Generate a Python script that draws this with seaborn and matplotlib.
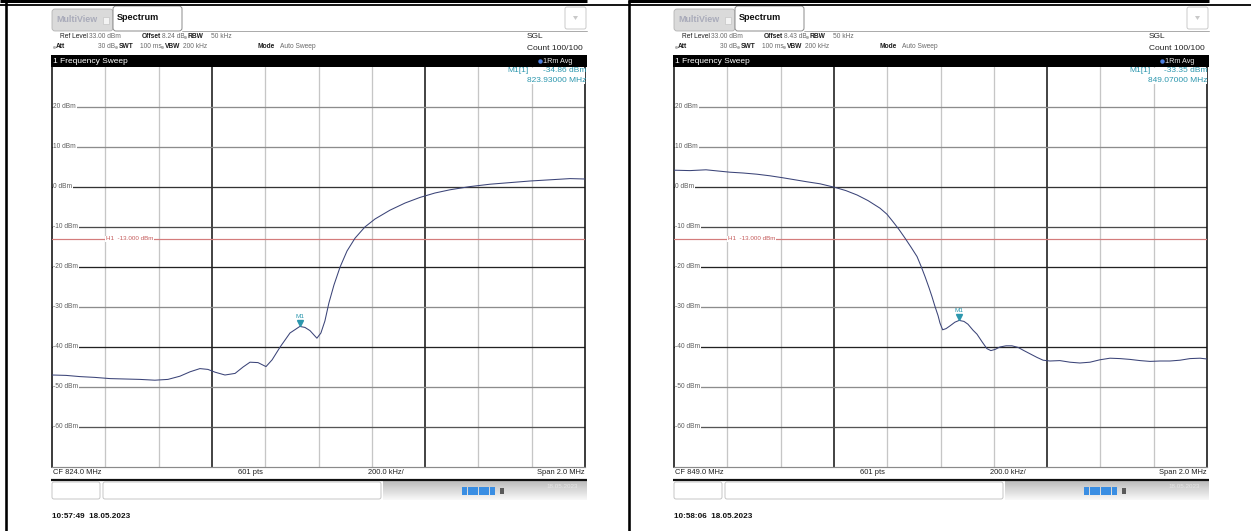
import matplotlib
matplotlib.use("Agg")
import numpy as np
import pandas as pd
import matplotlib.pyplot as plt
from matplotlib import font_manager
from matplotlib.patches import Rectangle, FancyBboxPatch, Polygon
from matplotlib.transforms import offset_copy
import seaborn as sns

# ---------------- measured traces ----------------
left_freq_mhz = [823.000, 823.053, 823.105, 823.161, 823.218, 823.274, 823.330, 823.386,
                 823.435, 823.480, 823.518, 823.555, 823.585, 823.612, 823.649, 823.687,
                 823.717, 823.743, 823.773, 823.803, 823.826, 823.856, 823.893, 823.930,
                 823.949, 823.968, 823.994, 824.009, 824.024, 824.039, 824.058, 824.081,
                 824.107, 824.137, 824.174, 824.212, 824.268, 824.325, 824.381, 824.437,
                 824.493, 824.568, 824.644, 824.719, 824.794, 824.869, 824.944, 825.000]
left_level_dbm = [-47.0, -47.1, -47.4, -47.6, -47.9, -48.0, -48.1, -48.3,
                  -48.1, -47.3, -46.2, -45.4, -45.6, -46.3, -47.0, -46.6,
                  -45.0, -43.8, -43.9, -44.9, -43.2, -40.0, -36.5, -34.86,
                  -35.1, -35.9, -37.8, -36.5, -33.5, -29.0, -24.5, -20.0,
                  -16.0, -12.8, -10.0, -8.0, -5.8, -4.0, -2.6, -1.5,
                  -0.7, 0.1, 0.7, 1.1, 1.5, 1.8, 2.1, 2.0]

right_freq_mhz = [848.000, 848.060, 848.120, 848.165, 848.210, 848.259, 848.311, 848.360,
                  848.409, 848.454, 848.499, 848.548, 848.604, 848.645, 848.687, 848.728,
                  848.773, 848.799, 848.822, 848.844, 848.867, 848.889, 848.912, 848.927,
                  848.942, 848.957, 848.968, 848.979, 848.991, 848.998, 849.008, 849.021,
                  849.036, 849.054, 849.070, 849.088, 849.103, 849.122, 849.137, 849.156,
                  849.174, 849.189, 849.205, 849.223, 849.246, 849.268, 849.291, 849.313,
                  849.336, 849.362, 849.385, 849.411, 849.448, 849.486, 849.523, 849.561,
                  849.598, 849.636, 849.674, 849.711, 849.749, 849.786, 849.824, 849.861,
                  849.899, 849.936, 849.974, 850.000]
right_level_dbm = [4.2, 4.1, 4.3, 4.0, 3.7, 3.5, 3.2, 2.8,
                   2.3, 1.8, 1.3, 0.8, -0.1, -0.9, -2.0, -3.4,
                   -5.3, -6.8, -8.7, -10.6, -12.8, -15.0, -17.4, -19.8,
                   -22.4, -25.2, -27.4, -29.8, -32.2, -34.0, -35.7, -35.4,
                   -34.7, -33.8, -33.35, -33.6, -34.3, -35.8, -36.8, -38.7,
                   -40.4, -40.9, -40.6, -40.0, -39.7, -39.7, -40.1, -40.9,
                   -41.7, -42.6, -43.3, -43.5, -43.4, -43.8, -44.0, -43.8,
                   -43.2, -42.8, -42.9, -43.1, -43.4, -43.6, -43.5, -43.5,
                   -43.3, -42.9, -42.8, -43.0]

y_ticks_dbm = [20, 10, 0, -10, -20, -30, -40, -50, -60]
limit_dbm = -13.0
center_mhz = [824.0, 849.0]
span_mhz = 2.0
sweep_points = 601
marker_freq_mhz = [823.93, 849.07]
marker_level_dbm = [-34.86, -33.35]
offset_db = [8.24, 8.43]
timestamps = ["10:57:49  18.05.2023", "10:58:06  18.05.2023"]

traces = [pd.DataFrame({"freq": left_freq_mhz, "level": left_level_dbm}),
          pd.DataFrame({"freq": right_freq_mhz, "level": right_level_dbm})]

# ---------------- style ----------------
sns.set_theme(style="white")
avail = {f.name for f in font_manager.fontManager.ttflist}
narrow = "Liberation Sans Narrow" if "Liberation Sans Narrow" in avail else "Liberation Sans"
plt.rcParams["font.family"] = [narrow, "DejaVu Sans"]

W, H = 1251, 531
fig = plt.figure(figsize=(W / 100, H / 100), dpi=100)
fig.patch.set_facecolor("white")


def px_rect(x0, y0, x1, y1):
    return [x0 / W, 1 - y1 / H, (x1 - x0) / W, (y1 - y0) / H]


ov = fig.add_axes([0, 0, 1, 1], zorder=5)
ov.patch.set_visible(False)
ov.axis("off")

TEAL = "#2c97ae"
TRACE = "#3b4478"
hline_col = {20: "#8c8c8c", 10: "#8c8c8c", 0: "#333333", -10: "#4a4a4a", -20: "#222222",
             -30: "#8c8c8c", -40: "#222222", -50: "#8c8c8c", -60: "#555555"}


def pt(px):
    return px * 0.72


def bullet(x, y):
    ov.plot([x], [y], marker="o", ms=2.2, color="#b5b5b5", mec="none", ls="none")


for i, dx in enumerate([0, 622]):
    cf = center_mhz[i]
    f0 = cf - span_mhz / 2

    # ---- trace window ----
    ax = fig.add_axes(px_rect(52 + dx, 67, 585 + dx, 467), zorder=1)
    ax.set_facecolor("white")
    ax.set_xlim(f0, f0 + span_mhz)
    ax.set_ylim(-70, 30)
    for k in range(1, 10):
        xv = f0 + k * span_mhz / 10
        if k in (3, 7):
            ax.axvline(xv, color="#1a1a1a", lw=pt(1.6), zorder=1)
        else:
            ax.axvline(xv, color="#c6c6c6", lw=pt(1.3), zorder=1)
    for v in y_ticks_dbm:
        ax.axhline(v, color=hline_col[v], lw=pt(1.3), zorder=1)
        ax.text(0.0025, v, f"{v} dBm", transform=ax.get_yaxis_transform(), fontsize=4.8,
                color="#5e5e5e", ha="left", va="center", zorder=2,
                bbox=dict(fc="white", ec="none", pad=0.5))

    ax.axhline(limit_dbm, color="#d47c7c", lw=pt(1.2), zorder=3)
    ax.text(54 / 533, limit_dbm, f"H1  {limit_dbm:.3f} dBm", transform=ax.get_yaxis_transform(),
            fontsize=4.5, color="#c45a5a", ha="left", va="center", zorder=3,
            bbox=dict(fc="white", ec="none", pad=0.4))

    sns.lineplot(data=traces[i], x="freq", y="level", ax=ax, color=TRACE, lw=0.75,
                 legend=False, zorder=4)

    mf, ml = marker_freq_mhz[i], marker_level_dbm[i]
    ax.plot([mf], [ml], marker="v", ms=4.2, color=TEAL, ls="none", zorder=5,
            transform=offset_copy(ax.transData, fig=fig, x=0, y=2.5, units="points"))
    ax.annotate("M1", xy=(mf, ml), xytext=(0, 5.2), textcoords="offset points",
                ha="center", va="bottom", fontsize=4.6, color=TEAL, zorder=5)

    ax.set_xticks([])
    ax.set_yticks([])
    ax.set_xlabel("")
    ax.set_ylabel("")
    ax.spines["top"].set_visible(False)
    for s in ("left", "right"):
        ax.spines[s].set_color("#111111")
        ax.spines[s].set_linewidth(pt(1.6))
    ax.spines["bottom"].set_color("#8a8a8a")
    ax.spines["bottom"].set_linewidth(pt(1.2))

    # ---- tab row ----
    ov.add_patch(FancyBboxPatch((52 + dx, 9), 61, 22, boxstyle="round,pad=0,rounding_size=3",
                                fc="#dadada", ec="#b3b3b3", lw=0.6))
    ov.text(56 + dx, 20, "MultiView", fontsize=6.4, fontweight="bold", color="#a9abba",
            ha="left", va="center")
    ov.add_patch(Rectangle((103 + dx, 16.5), 6, 7, fc="#f3f3f3", ec="#c6c6c6", lw=0.5))
    ov.add_patch(FancyBboxPatch((113 + dx, 6), 69, 25, boxstyle="round,pad=0,rounding_size=3",
                                fc="white", ec="#8a8a8a", lw=0.7))
    ov.text(117 + dx, 17.5, "Spectrum", fontsize=6.6, fontweight="bold", color="#111111",
            ha="left", va="center")
    ov.plot([182 + dx, 587 + dx], [31, 31], color="#9c9c9c", lw=0.6)
    ov.add_patch(FancyBboxPatch((565 + dx, 7), 21, 22, boxstyle="round,pad=0,rounding_size=2",
                                fc="white", ec="#c2c2c2", lw=0.6))
    ov.add_patch(Polygon([(573 + dx, 16), (578 + dx, 16), (575.5 + dx, 20)], closed=True,
                         fc="#c9c9c9", ec="none"))

    # ---- setting header ----
    hdr = dict(fontsize=4.8, ha="left", va="center")
    dark, light = "#1e1e1e", "#6a6a6a"
    y1, y2 = 37, 47
    ov.text(60 + dx, y1, "Ref Level", color=dark, **hdr)
    ov.text(89 + dx, y1, "33.00 dBm", color=light, **hdr)
    ov.text(142 + dx, y1, "Offset", color=dark, fontweight="bold", **hdr)
    ov.text(162 + dx, y1, f"{offset_db[i]:.2f} dB", color=light, **hdr)
    bullet(184.5 + dx, y1)
    ov.text(188 + dx, y1, "RBW", color=dark, fontweight="bold", **hdr)
    ov.text(211 + dx, y1, "50 kHz", color=light, **hdr)
    bullet(53.5 + dx, y2)
    ov.text(56 + dx, y2, "Att", color=dark, fontweight="bold", **hdr)
    ov.text(98 + dx, y2, "30 dB", color=light, **hdr)
    bullet(116 + dx, y2)
    ov.text(119 + dx, y2, "SWT", color=dark, fontweight="bold", **hdr)
    ov.text(140 + dx, y2, "100 ms", color=light, **hdr)
    bullet(162 + dx, y2)
    ov.text(165 + dx, y2, "VBW", color=dark, fontweight="bold", **hdr)
    ov.text(183 + dx, y2, "200 kHz", color=light, **hdr)
    ov.text(258 + dx, y2, "Mode", color=dark, fontweight="bold", **hdr)
    ov.text(280 + dx, y2, "Auto Sweep", color=light, **hdr)
    ov.text(527 + dx, 36, "SGL", fontsize=6.0, color="#222222", ha="left", va="center")
    ov.text(527 + dx, 48, "Count 100/100", fontsize=6.0, color="#222222", ha="left", va="center")

    # ---- window title bar ----
    ov.add_patch(Rectangle((51 + dx, 55), 536, 12, fc="black", ec="none"))
    ov.text(53 + dx, 61.5, "1 Frequency Sweep", fontsize=6.0, color="white", ha="left", va="center")
    ov.plot([540 + dx], [61], marker="o", ms=3.2, color="#4c7fe0", mec="none", ls="none")
    ov.text(543 + dx, 61.5, "1Rm Avg", fontsize=5.2, color="#e8e8e8", ha="left", va="center")

    # ---- marker readout ----
    ov.add_patch(Rectangle((503 + dx, 68), 82, 16, fc="white", ec="none"))
    ov.text(507 + dx, 71, "M1[1]", fontsize=6.0, color=TEAL, ha="left", va="center")
    ov.text(586 + dx, 71, f"{ml:.2f} dBm", fontsize=6.0, color=TEAL, ha="right", va="center")
    ov.text(586 + dx, 81, f"{mf:.5f} MHz", fontsize=6.0, color=TEAL, ha="right", va="center")

    # ---- footer of the trace window ----
    ft = dict(fontsize=5.4, color="#1e1e1e", va="center")
    ov.text(53 + dx, 473, f"CF {cf:.1f} MHz", ha="left", **ft)
    ov.text(250 + dx, 473, f"{sweep_points} pts", ha="center", **ft)
    ov.text(386 + dx, 473, f"{span_mhz / 10 * 1000:.1f} kHz/", ha="center", **ft)
    ov.text(585 + dx, 473, f"Span {span_mhz:.1f} MHz", ha="right", **ft)
    ov.plot([51 + dx, 587 + dx], [479.5, 479.5], color="#111111", lw=pt(2.2),
            solid_capstyle="butt")

    # ---- status bar ----
    ov.add_patch(FancyBboxPatch((52 + dx, 482), 48, 17, boxstyle="round,pad=0,rounding_size=2",
                                fc="white", ec="#bdbdbd", lw=0.6))
    ov.add_patch(FancyBboxPatch((103 + dx, 482), 278, 17, boxstyle="round,pad=0,rounding_size=2",
                                fc="white", ec="#bdbdbd", lw=0.6))
    grad = np.linspace(0.74, 0.97, 20).reshape(-1, 1)
    ov.imshow(np.repeat(grad, 2, axis=1), cmap="gray", vmin=0, vmax=1, aspect="auto",
              extent=(383 + dx, 587 + dx, 500, 481), interpolation="bilinear", zorder=0.5)
    for s in range(6):
        ov.add_patch(Rectangle((462 + dx + s * 5.6, 487), 5.0, 8, fc="#3a8ee3", ec="none"))
    ov.add_patch(Rectangle((500 + dx, 488), 4, 6, fc="#5a5a5a", ec="none"))
    ov.text(546 + dx, 486, "18.05.2023", fontsize=4.5, color="#e6e6e6", ha="left", va="center")

    # ---- capture time ----
    ov.text(52 + dx, 517, timestamps[i], fontsize=5.9, fontweight="bold", color="#111111",
            ha="left", va="center")

# ---- page frame ----
ov.plot([0, 587], [1.3, 1.3], color="black", lw=pt(3), solid_capstyle="butt")
ov.plot([628, 1209], [1.3, 1.3], color="black", lw=pt(3), solid_capstyle="butt")
ov.plot([0, W], [4.8, 4.8], color="black", lw=pt(1.8), solid_capstyle="butt")
ov.plot([6, 6], [0, H], color="black", lw=pt(2.6), solid_capstyle="butt")
ov.plot([629, 629], [0, H], color="black", lw=pt(2.6), solid_capstyle="butt")

ov.set_xlim(0, W)
ov.set_ylim(H, 0)

fig.savefig("out.png", dpi=100, facecolor="white")
